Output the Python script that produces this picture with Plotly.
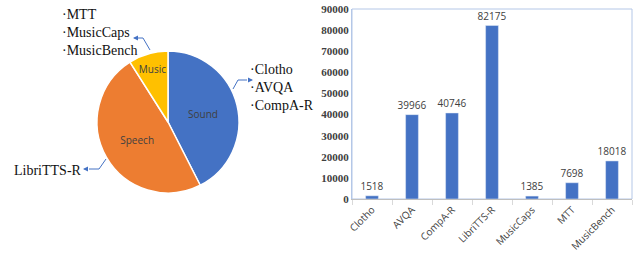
import plotly.graph_objects as go

# Pie data (share of the pie)
pie_labels = ["Sound", "Speech", "Music"]
pie_values = [42.5, 48.5, 9.0]
pie_colors = ["#4472C4", "#ED7D31", "#FFC000"]

# Bar data
categories = ["Clotho", "AVQA", "CompA-R", "LibriTTS-R", "MusicCaps", "MTT", "MusicBench"]
counts = [1518, 39966, 40746, 82175, 1385, 7698, 18018]
y_ticks = [0, 10000, 20000, 30000, 40000, 50000, 60000, 70000, 80000, 90000]

W, H = 636, 263

def px(x):
    return x / W

def py(y):
    return 1 - y / H

fig = go.Figure()

fig.add_trace(go.Pie(
    labels=pie_labels, values=pie_values, sort=False, direction="clockwise", rotation=0,
    marker=dict(colors=pie_colors, line=dict(color="white", width=1.5)),
    textinfo="label", textposition="inside", insidetextorientation="horizontal",
    textfont=dict(family="Open Sans", size=10, color="#404040"),
    domain=dict(x=[px(97), px(239)], y=[py(193), py(51)]),
    showlegend=False, hoverinfo="label+percent", automargin=False,
))

fig.add_trace(go.Bar(
    x=categories, y=counts, width=0.32,
    marker=dict(color="#4472C4"),
    text=[str(c) for c in counts], textposition="outside", cliponaxis=False,
    constraintext="none",
    textfont=dict(family="Open Sans", size=10, color="#404040"),
    xaxis="x", yaxis="y", showlegend=False,
))

fig.update_layout(
    width=W, height=H, margin=dict(l=0, r=0, t=0, b=0, autoexpand=False),
    paper_bgcolor="white", plot_bgcolor="white",
    xaxis=dict(domain=[px(352), px(632)], tickangle=-45, showgrid=False, automargin=False,
               tickfont=dict(family="Open Sans", size=10, color="#404040"),
               showline=True, linecolor="#BFBFBF", linewidth=1, mirror=False,
               ticks="outside", ticklen=5, tickcolor="#D9D9D9", tickson="boundaries",
               anchor="y"),
    yaxis=dict(domain=[py(199), py(9)], range=[0, 90000], tickvals=y_ticks, tickformat="d",
               showgrid=False, zeroline=False, automargin=False, ticklabeloverflow="allow",
               tickfont=dict(family="Liberation Serif", size=11, color="#404040", weight="bold"),
               showline=True, linecolor="#B4C7E7", linewidth=1, anchor="x"),
    bargap=0.6,
)

# plot box border (top/right) in light blue
fig.add_shape(type="rect", xref="x domain", yref="y domain", x0=0, x1=1, y0=0, y1=1,
              line=dict(color="#B4C7E7", width=1), layer="below")

# callouts
serif = dict(family="Liberation Serif", size=14, color="#111111")
line_c = "#4472C4"

def elbow(points):
    path = "M " + " L ".join(f"{px(x)} {py(y)}" for x, y in points)
    fig.add_shape(type="path", xref="paper", yref="paper", path=path,
                  line=dict(color=line_c, width=1))

def arrow(x, y, dx):
    fig.add_annotation(x=px(x), y=py(y), ax=dx, ay=0, xref="paper", yref="paper",
                       axref="pixel", ayref="pixel", showarrow=True, arrowhead=2, arrowsize=1,
                       arrowwidth=1, arrowcolor=line_c, text="")

# Music callout
elbow([(150, 50), (143, 38), (138, 38)])
arrow(133, 38, 6)
fig.add_annotation(x=px(60), y=py(32), xref="paper", yref="paper", xanchor="left", yanchor="middle",
                   text="·MTT<br>·MusicCaps<br>·MusicBench", align="left", showarrow=False,
                   font=serif)

# Sound callout
elbow([(233, 89), (238, 80), (247, 80)])
arrow(253, 80, -6)
fig.add_annotation(x=px(248), y=py(87), xref="paper", yref="paper", xanchor="left", yanchor="middle",
                   text="·Clotho<br>·AVQA<br>·CompA-R", align="left", showarrow=False,
                   font=serif)

# Speech callout
elbow([(106, 159), (99, 169), (89, 169)])
arrow(83, 169, 6)
fig.add_annotation(x=px(12), y=py(170), xref="paper", yref="paper", xanchor="left", yanchor="middle",
                   text="LibriTTS-R", align="left", showarrow=False, font=serif)

fig.write_html("out.html", config={"displayModeBar": False},
               post_script="document.body.style.margin='0';")
